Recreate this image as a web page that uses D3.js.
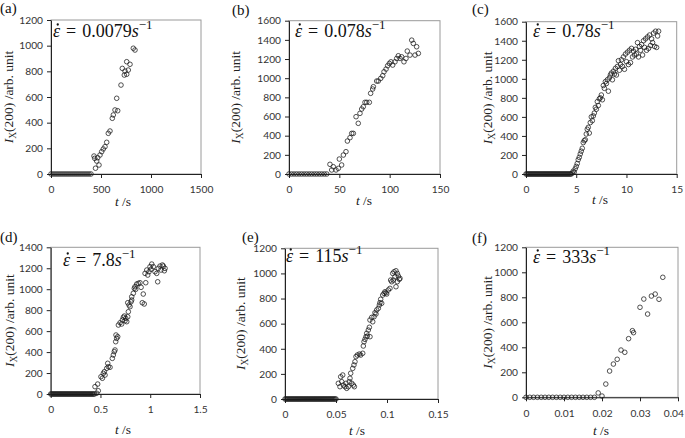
<!DOCTYPE html>
<html><head><meta charset="utf-8">
<script src="https://cdn.jsdelivr.net/npm/d3@7"></script>
<style>body{margin:0;background:#fff}svg{display:block}</style>
</head><body>
<svg id="chart" width="685" height="438"></svg>
<script>
// ---------- data ----------
const panelLetters = ["(a)","(b)","(c)","(d)","(e)","(f)"];
const rateValues = ["0.0079","0.078","0.78","7.8","115","333"];
const xDomains = [[0,1500],[0,150],[0,15],[0,1.5],[0,0.15],[0,0.04]];
const yDomains = [[0,1200],[0,1600],[0,1600],[0,1400],[0,1200],[0,1200]];
const xTickValues = [[0,500,1000,1500],[0,50,100,150],[0,5,10,15],[0,0.5,1,1.5],[0,0.05,0.1,0.15],[0,0.01,0.02,0.03,0.04]];
const yTickValues = [
  [0,200,400,600,800,1000,1200],
  [0,200,400,600,800,1000,1200,1400,1600],
  [0,200,400,600,800,1000,1200,1400,1600],
  [0,200,400,600,800,1000,1200,1400],
  [0,200,400,600,800,1000,1200],
  [0,200,400,600,800,1000,1200]
];

const dataA = [[0,0],[20,0],[40,0],[60,0],[80,0],[100,0],[120,0],[140,0],[160,0],[180,0],[200,0],[220,0],[240,0],[260,0],[280,0],[300,0],[320,0],[340,0],[360,0],[380,0],[400,0],
 [430,140],[437,122],[445,45],[457,101],[467,127],[480,70],[490,148],[507,174],[523,195],[540,213],[557,247],[573,317],[590,335],[613,434],[623,460],[640,499],[657,590],[667,493],[700,693],[713,823],[733,771],[740,802],[757,777],[757,875],[773,810],[790,855],[823,980],[840,966]];

const dataB = [[0,0],[2.5,0],[5,0],[7.5,0],[10,0],[12.5,0],[15,0],[17.5,0],[20,0],[22.5,0],[25,0],[27.5,0],[30,0],[32.5,0],[35,0],[37.5,0],
 [40.7,101],[42.4,42],[44,76],[46.7,42],[49,59],[50,156],[52.3,94],[54,198],[56.6,233],[58,344],[60.6,379],[62.3,424],[63.9,424],[66.6,598],[68.8,529],[70.5,633],[72.2,678],[73.8,702],[75.5,748],[77.2,748],[79.8,748],[81.1,842],[83.1,887],[83.8,911],[87.1,970],[88.7,970],[91.1,998],[93.1,1026],[94.4,1067],[96.4,1095],[98,1130],[99.7,1154],[101.3,1171],[103,1137],[105.3,1171],[107,1206],[108.6,1234],[110.3,1206],[111.9,1223],[114.2,1171],[116.2,1206],[117.5,1283],[120.2,1241],[121.9,1397],[123.5,1363],[125.2,1241],[126.8,1328],[128.5,1259]];

const dataC = [[0,0],[0.1,0],[0.2,0],[0.3,0],[0.4,0],[0.5,0],[0.6,0],[0.7,0],[0.8,0],[0.9,0],[1,0],[1.1,0],[1.2,0],[1.3,0],[1.4,0],[1.5,0],[1.6,0],[1.7,0],[1.8,0],[1.9,0],[2,0],[2.1,0],[2.2,0],[2.3,0],[2.4,0],[2.5,0],[2.6,0],[2.7,0],[2.8,0],[2.9,0],[3,0],[3.1,0],[3.2,0],[3.3,0],[3.4,0],[3.5,0],[3.6,0],[3.7,0],[3.8,0],[3.9,0],[4,0],[4.1,0],[4.2,0],[4.3,0],[4.4,0],[4.5,0],
 [4.6,10],[4.7,30],[4.8,20],[4.9,55],[5.0,80],[5.1,110],[5.2,150],[5.3,175],[5.4,210],[5.5,240],[5.6,270],[5.7,330],[5.8,350],[5.9,360],[6.0,420],[6.1,470],[6.2,490],[6.3,430],[6.4,540],[6.5,600],[6.6,560],[6.7,610],[6.8,640],[6.9,700],[7.0,680],[7.1,760],[7.2,720],[7.3,790],[7.4,800],[7.5,830],[7.6,780],[7.7,930],[7.8,900],[7.9,970],[8.0,950],[8.1,990],[8.2,870],[8.3,1010],[8.4,1040],[8.5,1060],[8.6,990],[8.7,1080],[8.8,1050],[8.9,1110],[9.0,1040],[9.1,1130],[9.2,1190],[9.3,1090],[9.4,1150],[9.5,1200],[9.6,1130],[9.7,1230],[9.8,1100],[9.9,1260],[10.0,1180],[10.1,1280],[10.2,1150],[10.3,1300],[10.4,1170],[10.5,1320],[10.6,1230],[10.7,1290],[10.8,1250],[10.9,1310],[11.0,1260],[11.1,1380],[11.2,1230],[11.3,1340],[11.4,1300],[11.5,1360],[11.6,1250],[11.7,1400],[11.8,1330],[11.9,1420],[12.0,1300],[12.1,1440],[12.2,1320],[12.3,1460],[12.4,1350],[12.5,1420],[12.6,1380],[12.7,1480],[12.8,1340],[12.9,1500],[13.0,1330],[13.1,1450],[13.2,1500]];

const dataD = [[0,0],[0.01,0],[0.02,0],[0.03,0],[0.04,0],[0.05,0],[0.06,0],[0.07,0],[0.08,0],[0.09,0],[0.1,0],[0.11,0],[0.12,0],[0.13,0],[0.14,0],[0.15,0],[0.16,0],[0.17,0],[0.18,0],[0.19,0],[0.2,0],[0.21,0],[0.22,0],[0.23,0],[0.24,0],[0.25,0],[0.26,0],[0.27,0],[0.28,0],[0.29,0],[0.3,0],[0.31,0],[0.32,0],[0.33,0],[0.34,0],[0.35,0],[0.36,0],[0.37,0],[0.38,0],[0.39,0],[0.4,0],[0.41,0],[0.42,0],[0.43,0],[0.44,0],
 [0.445,70],[0.462,7],[0.472,95],[0.478,31],[0.505,165],[0.519,150],[0.529,197],[0.539,213],[0.546,181],[0.563,245],[0.573,293],[0.579,260],[0.596,255],[0.619,340],[0.629,372],[0.639,404],[0.646,420],[0.653,499],[0.656,563],[0.663,531],[0.673,547],[0.68,658],[0.697,680],[0.713,668],[0.72,706],[0.73,732],[0.74,744],[0.747,699],[0.754,722],[0.764,690],[0.774,737],[0.774,871],[0.78,785],[0.787,849],[0.797,833],[0.807,880],[0.814,897],[0.814,928],[0.83,961],[0.84,1008],[0.847,1024],[0.854,999],[0.864,1049],[0.88,1056],[0.897,1062],[0.908,1018],[0.92,871],[0.93,954],[0.94,859],[0.948,1151],[0.955,1062],[0.965,1183],[0.975,1135],[0.988,1167],[0.998,1215],[1.008,1190],[1.015,1240],[1.031,1215],[1.048,1167],[1.065,1151],[1.075,1071],[1.081,1199],[1.098,1221],[1.108,1183],[1.122,1231],[1.132,1221],[1.142,1176],[1.149,1199]];

const dataE = [[0,0],[0.001,0],[0.002,0],[0.003,0],[0.004,0],[0.005,0],[0.006,0],[0.007,0],[0.008,0],[0.009,0],[0.01,0],[0.011,0],[0.012,0],[0.013,0],[0.014,0],[0.015,0],[0.016,0],[0.017,0],[0.018,0],[0.019,0],[0.02,0],[0.021,0],[0.022,0],[0.023,0],[0.024,0],[0.025,0],[0.026,0],[0.027,0],[0.028,0],[0.029,0],[0.03,0],[0.031,0],[0.032,0],[0.033,0],[0.034,0],[0.035,0],[0.036,0],[0.037,0],[0.038,0],[0.039,0],[0.04,0],[0.041,0],[0.042,0],[0.043,0],[0.044,0],[0.045,0],[0.046,0],[0.047,0],[0.048,0],[0.049,0],[0.05,0],
 [0.0523,125],[0.0539,98],[0.0546,177],[0.0556,138],[0.0566,191],[0.0572,111],[0.0588,98],[0.0598,125],[0.0605,85],[0.0621,98],[0.063,138],[0.0637,165],[0.0644,205],[0.0654,125],[0.0664,244],[0.067,111],[0.0676,271],[0.068,98],[0.0686,297],[0.0696,337],[0.0709,350],[0.0729,358],[0.0742,350],[0.0762,364],[0.0768,422],[0.0775,456],[0.0784,475],[0.0794,496],[0.0801,523],[0.0807,501],[0.0817,549],[0.0827,571],[0.0833,496],[0.0833,629],[0.085,650],[0.086,615],[0.0873,655],[0.0882,687],[0.0892,677],[0.0899,709],[0.0915,722],[0.0925,748],[0.0931,767],[0.0938,794],[0.0948,762],[0.0958,828],[0.0971,841],[0.098,854],[0.099,846],[0.0997,836],[0.1013,868],[0.1029,881],[0.1036,947],[0.1046,934],[0.1056,1000],[0.1062,947],[0.1069,1013],[0.1078,973],[0.1088,1021],[0.1088,894],[0.1101,1000],[0.1101,934],[0.1111,979],[0.1121,953],[0.1127,961]];

const dataF = [[0,0],[0.001,0],[0.002,0],[0.003,0],[0.004,0],[0.005,0],[0.006,0],[0.007,0],[0.008,0],[0.009,0],[0.01,0],[0.011,0],[0.012,0],[0.013,0],[0.014,0],[0.015,0],[0.016,0],[0.017,0],[0.018,0],
 [0.019,35],[0.02,10],[0.021,106],[0.022,210],[0.023,266],[0.024,304],[0.025,378],[0.026,360],[0.027,469],[0.028,533],[0.0283,517],[0.03,720],[0.031,786],[0.032,666],[0.033,810],[0.034,826],[0.035,784],[0.036,960]];

const seriesData = [dataA,dataB,dataC,dataD,dataE,dataF];

// ---------- layout (positions only) ----------
const layout = [
  {x0:51,  x1:201,   yT:20,    yB:174,   let:[0,13],   ylx:8,   xlx:123, xly:206, ann:[53,37]},
  {x0:289, x1:440,   yT:20.7,  yB:174,   let:[232,15], ylx:235, xlx:364, xly:205, ann:[295,37]},
  {x0:526, x1:676.7, yT:21.7,  yB:174,   let:[472,14], ylx:487, xlx:600, xly:204, ann:[533,37]},
  {x0:50.7,x1:200,   yT:247.3, yB:394,   let:[0,242],  ylx:9,   xlx:123, xly:434, ann:[63,266]},
  {x0:285, x1:438,   yT:248.3, yB:399,   let:[242,242],ylx:240, xlx:357, xly:435, ann:[286,262]},
  {x0:526, x1:678,   yT:247.3, yB:397.3, let:[472,243],ylx:487, xlx:601, xly:435, ann:[533,263]}
];

const svg = d3.select("#chart");
const serif = "'Liberation Serif','Times New Roman',serif";
const sans = "Lato,'Open Sans',sans-serif";

layout.forEach((L,i)=>{
  const g = svg.append("g");
  const xs = d3.scaleLinear().domain(xDomains[i]).range([L.x0,L.x1]);
  const ys = d3.scaleLinear().domain(yDomains[i]).range([L.yB,L.yT]);

  // frame
  g.append("rect").attr("x",L.x0).attr("y",L.yT).attr("width",L.x1-L.x0).attr("height",L.yB-L.yT)
    .attr("fill","none").attr("stroke","#9a9a9a").attr("stroke-width",1);

  const xa = g.append("g").attr("transform",`translate(0,${L.yB})`)
    .call(d3.axisBottom(xs).tickValues(xTickValues[i]).tickSize(4).tickPadding(8).tickSizeOuter(0).tickFormat(d=>String(d)));
  const ya = g.append("g").attr("transform",`translate(${L.x0},0)`)
    .call(d3.axisLeft(ys).tickValues(yTickValues[i]).tickSize(4).tickPadding(4).tickSizeOuter(0).tickFormat(d=>String(d)));
  [xa,ya].forEach(a=>{
    a.selectAll("path,line").attr("stroke","#222").attr("stroke-width",1);
    a.selectAll("text").attr("font-family",sans).attr("font-size",10.2).attr("fill","#333");
  });
  // keep tick labels inside the picture
  xa.selectAll("text").each(function(){
    const b = this.getBBox();
    const tr = this.parentNode.transform.baseVal.consolidate().matrix.e;
    const right = tr + b.x + b.width;
    if (right > 684) d3.select(this).attr("dx", (684-right)+"px");
  });

  // points
  g.append("g").selectAll("circle").data(seriesData[i]).join("circle")
    .attr("cx",d=>xs(d[0])).attr("cy",d=>ys(d[1])).attr("r",2.3)
    .attr("fill","none").attr("stroke","#1a1a1a").attr("stroke-width",0.75);

  // panel letter
  svg.append("text").attr("x",L.let[0]).attr("y",L.let[1]).attr("font-family",serif)
    .attr("font-size",15).attr("fill","#111").text(panelLetters[i]);

  // x label
  const xl = svg.append("text").attr("x",L.xlx).attr("y",L.xly).attr("text-anchor","middle")
    .attr("font-family",serif).attr("font-size",13.5).attr("fill","#222");
  xl.append("tspan").attr("font-style","italic").text("t");
  xl.append("tspan").text(" /s");

  // y label
  const cy = (L.yT+L.yB)/2;
  const yl = svg.append("text").attr("transform",`translate(${L.ylx+5},${cy}) rotate(-90)`)
    .attr("text-anchor","middle").attr("font-family",serif).attr("font-size",13.5).attr("fill","#222");
  yl.append("tspan").attr("font-style","italic").text("I");
  yl.append("tspan").attr("font-size",9.5).attr("dy",3).text("X");
  yl.append("tspan").attr("dy",-3).text("(200) /arb. unit");

  // annotation
  const an = svg.append("text").attr("x",L.ann[0]).attr("y",L.ann[1])
    .attr("font-family",serif).attr("font-size",18).attr("fill","#111");
  an.append("tspan").attr("font-style","italic").text("\u03B5");
  an.append("tspan").attr("dx",6).text("=");
  an.append("tspan").attr("dx",6).text(rateValues[i]);
  an.append("tspan").attr("font-style","italic").text("s");
  an.append("tspan").attr("font-size",13).attr("dy",-8).text("\u22121");
  // dot above epsilon
  const ext = an.node().getExtentOfChar(0);
  svg.append("circle").attr("cx",ext.x+ext.width/2+1.2).attr("cy",L.ann[1]-12.5)
    .attr("r",1.15).attr("fill","#111");
});
</script>
</body></html>
